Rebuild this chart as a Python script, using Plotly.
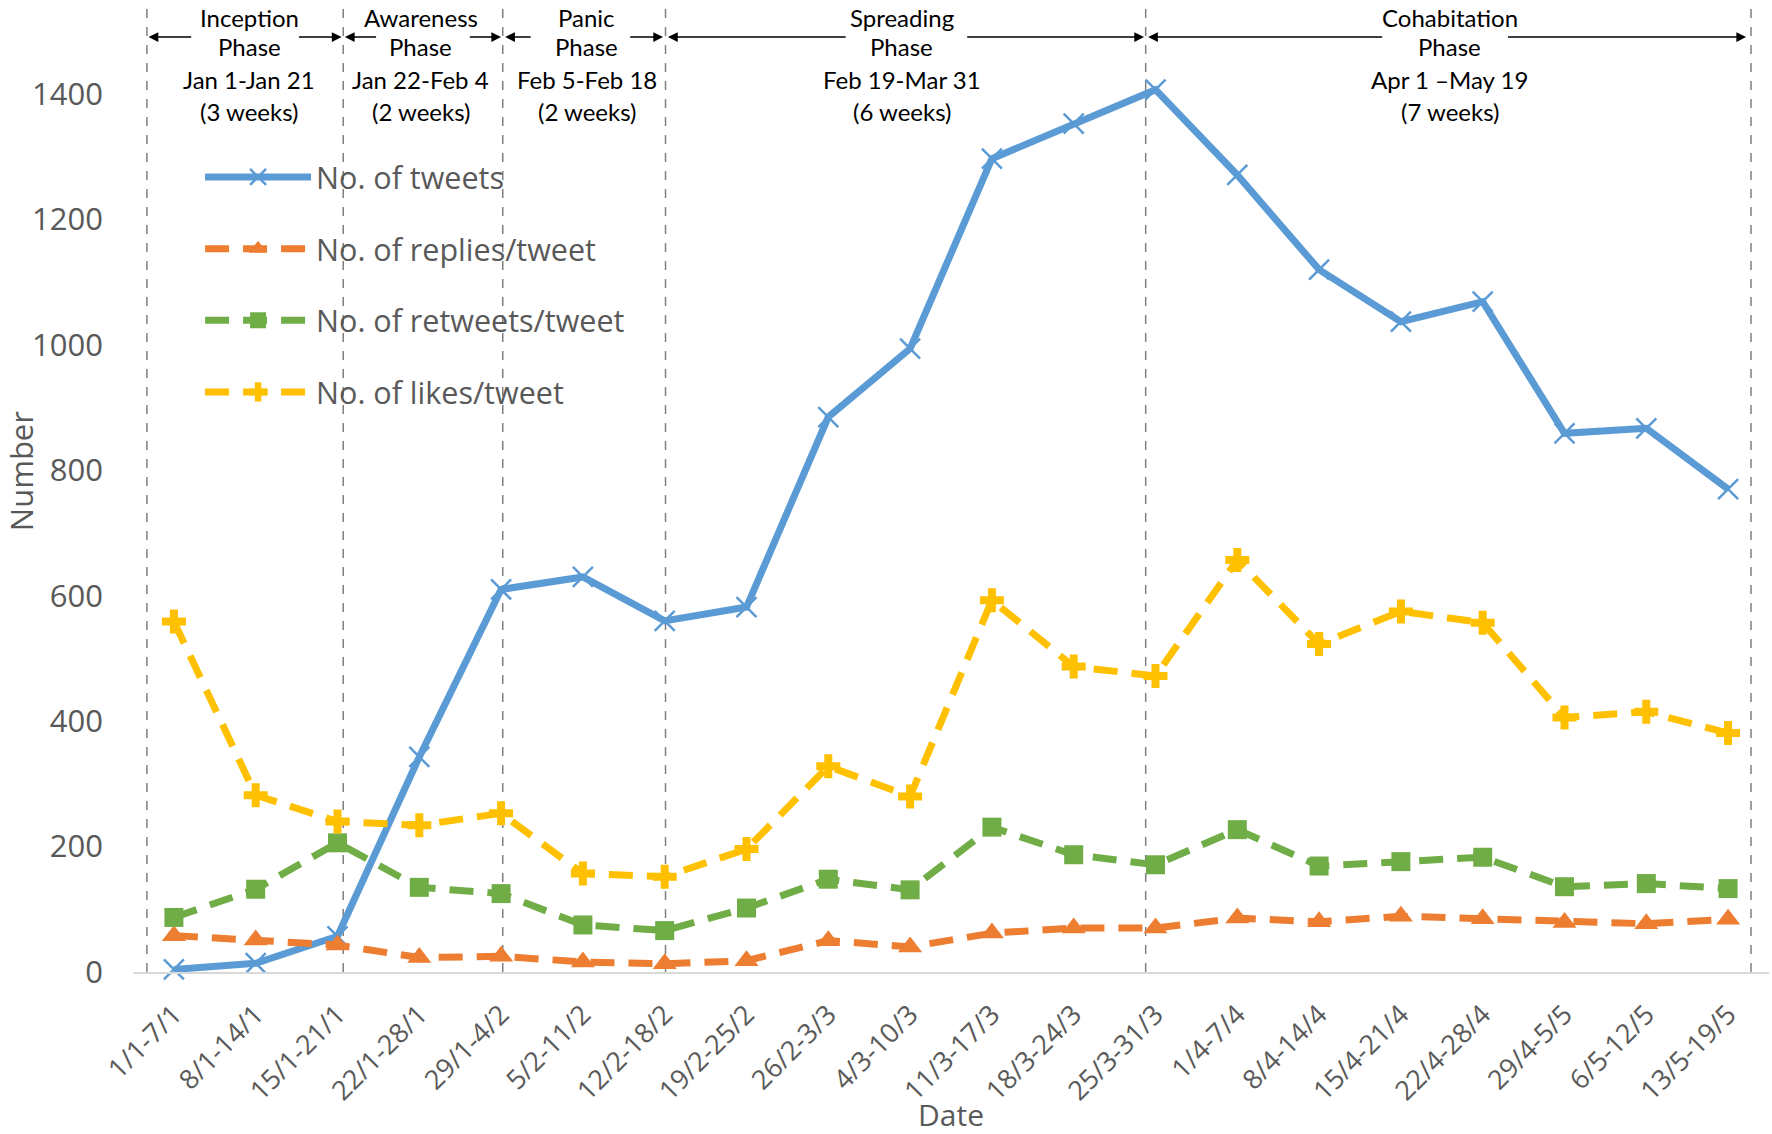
import plotly.graph_objects as go

weeks = ["1/1-7/1", "8/1-14/1", "15/1-21/1", "22/1-28/1", "29/1-4/2", "5/2-11/2",
         "12/2-18/2", "19/2-25/2", "26/2-3/3", "4/3-10/3", "11/3-17/3", "18/3-24/3",
         "25/3-31/3", "1/4-7/4", "8/4-14/4", "15/4-21/4", "22/4-28/4", "29/4-5/5",
         "6/5-12/5", "13/5-19/5"]

tweets = [4, 14, 57, 343, 610, 630, 560, 582, 885, 994, 1297, 1353, 1407, 1271,
          1120, 1037, 1069, 859, 867, 770]
replies = [58, 51, 43, 23, 25, 16, 13, 18, 50, 40, 62, 70, 70, 86, 80, 89, 85, 79, 77, 84]
retweets = [87, 132, 206, 135, 125, 75, 66, 102, 148, 131, 231, 187, 171, 227, 169, 176,
            183, 136, 141, 133]
likes = [559, 282, 240, 234, 253, 157, 152, 196, 328, 280, 593, 487, 472, 657, 523, 575,
         557, 406, 415, 381]

series_names = ["No. of tweets", "No. of replies/tweet", "No. of retweets/tweet", "No. of likes/tweet"]

# phase annotations
phase_titles = ["Inception", "Awareness", "Panic", "Spreading", "Cohabitation"]
phase_ranges = ["Jan 1-Jan 21", "Jan 22-Feb 4", "Feb 5-Feb 18", "Feb 19-Mar 31", "Apr 1 \u2013May 19"]
phase_weeks = ["(3 weeks)", "(2 weeks)", "(2 weeks)", "(6 weeks)", "(7 weeks)"]

# layout positions (category units)
phase_bounds = [-0.33, 2.07, 4.02, 6.01, 11.88, 19.28]
phase_centers = [0.92, 3.02, 5.05, 8.9, 15.6]
arrow_tails = [(0.23, 1.51), (2.49, 3.60), (4.38, 5.56), (8.23, 9.68), (14.79, 16.29)]
arrow_heads = [(-0.31, 2.05), (2.09, 4.00), (4.05, 5.98), (6.04, 11.86), (11.91, 19.22)]

fig = go.Figure()

DASH = "24px,14px"
styles = [
    dict(color="#5B9BD5", dash="solid", symbol="x-thin", msize=20, mline=2.5),
    dict(color="#ED7D31", dash=DASH, symbol="triangle-up", msize=21, mline=0),
    dict(color="#70AD47", dash=DASH, symbol="square", msize=19, mline=0),
    dict(color="#FFC000", dash=DASH, symbol="cross", msize=20, mline=0),
]

for name, vals, st in zip(series_names, [tweets, replies, retweets, likes], styles):
    fig.add_trace(go.Scatter(
        x=weeks, y=vals, name=name, mode="lines+markers",
        legendgroup=name,
        line=dict(color=st["color"], width=7, dash=st["dash"]),
        marker=dict(symbol=st["symbol"], size=st["msize"], color=st["color"],
                    line=dict(color=st["color"], width=st["mline"])),
        cliponaxis=False,
    ))

shapes = []
for b in phase_bounds:
    shapes.append(dict(type="line", xref="x", yref="paper", x0=b, x1=b, y0=0, y1=1,
                       line=dict(color="#7F7F7F", width=1.5, dash="dash"), layer="below"))

annotations = []
font_phase = dict(family="Lato, Carlito, sans-serif", size=24, color="#000000")
ys = [1522, 1476, 1424, 1372]
for c, t, r, w in zip(phase_centers, phase_titles, phase_ranges, phase_weeks):
    for txt, yv in zip([t, "Phase", r, w], ys):
        annotations.append(dict(x=c, y=yv, xref="x", yref="y", text=txt, showarrow=False,
                                font=font_phase, xanchor="center", yanchor="middle"))

arrow_y = 1491
for (t1, t2), (h1, h2) in zip(arrow_tails, arrow_heads):
    for tail, head in [(t1, h1), (t2, h2)]:
        annotations.append(dict(x=head, y=arrow_y, xref="x", yref="y", ax=tail, ay=arrow_y,
                                axref="x", ayref="y", text="", showarrow=True,
                                arrowhead=2, arrowsize=1.3, arrowwidth=1.5, arrowcolor="#000000"))

# axis titles as annotations
annotations.append(dict(x=-0.068, y=0.515, xref="paper", yref="paper", text="Number",
                        textangle=-90, showarrow=False, xanchor="center", yanchor="middle",
                        font=dict(family="Open Sans, sans-serif", size=31, color="#595959")))
annotations.append(dict(x=0.5, y=-0.147, xref="paper", yref="paper", text="Date",
                        showarrow=False, xanchor="center", yanchor="middle",
                        font=dict(family="Open Sans, sans-serif", size=30, color="#595959")))

fig.update_layout(
    width=1772, height=1134,
    margin=dict(l=133, r=3, t=0, b=162),
    paper_bgcolor="white", plot_bgcolor="white",
    font=dict(family="Open Sans, sans-serif", color="#595959"),
    showlegend=True,
    legend=dict(x=0.041, y=0.845, xanchor="left", yanchor="top",
                font=dict(family="Open Sans, sans-serif", size=30.5, color="#595959"),
                tracegroupgap=29, itemwidth=106, bgcolor="rgba(0,0,0,0)"),
    shapes=shapes,
    annotations=annotations,
    xaxis=dict(type="category", range=[-0.5, 19.5], showgrid=False, zeroline=False,
               showline=True, linecolor="#D9D9D9", linewidth=2, ticks="",
               tickangle=-45, tickfont=dict(size=27, color="#595959"),
               ticklabelstandoff=14),
    yaxis=dict(range=[0, 1550], showgrid=False, zeroline=False, showline=False,
               tickvals=[0, 200, 400, 600, 800, 1000, 1200, 1400],
               tickfont=dict(size=31, color="#595959"), ticklabelstandoff=29),
)

fig.write_html("out.html", config={"displayModeBar": False},
               post_script="document.body.style.margin='0px';")
